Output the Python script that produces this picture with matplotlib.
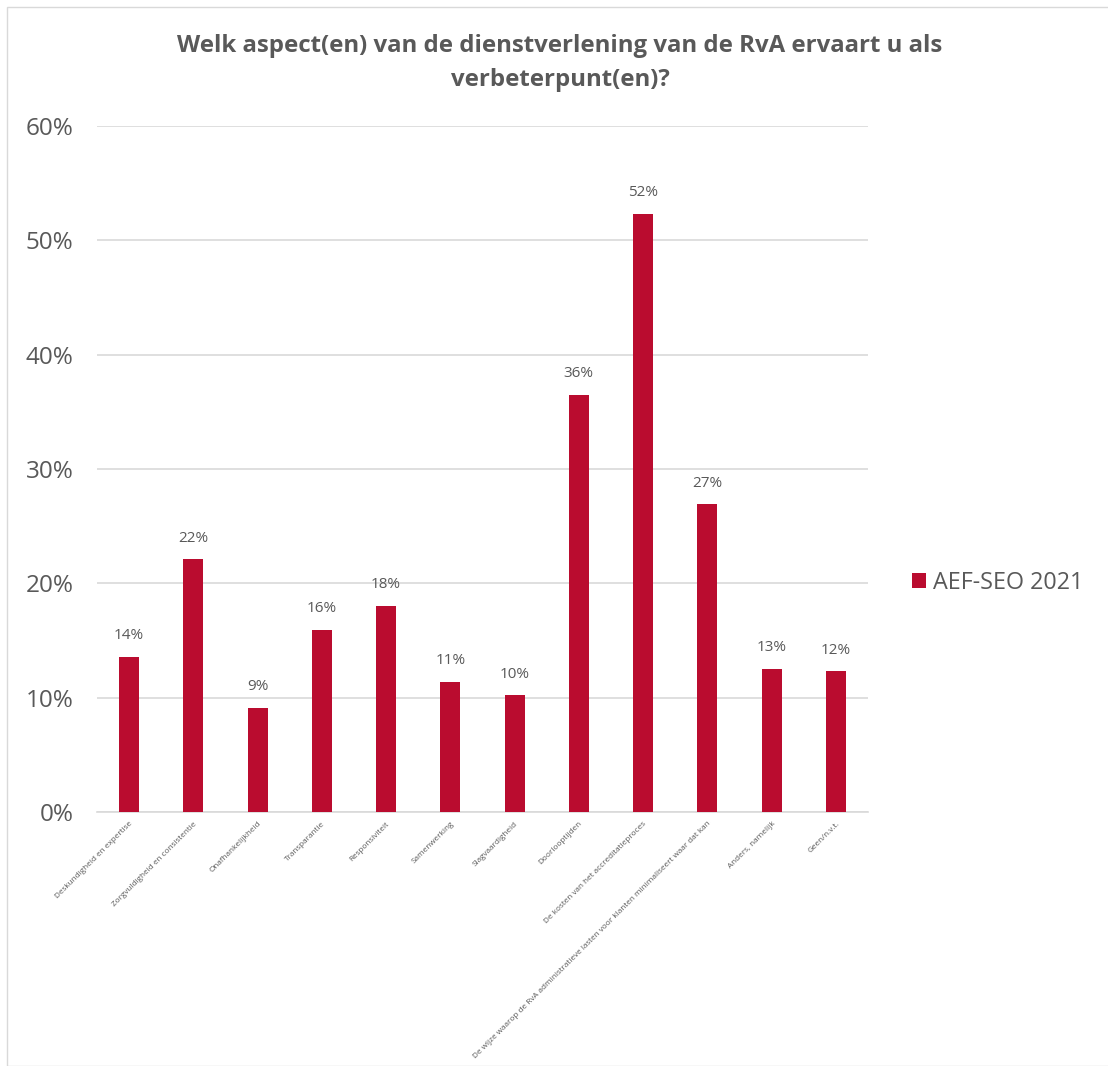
import numpy as np
import matplotlib.pyplot as plt
from matplotlib.patches import Rectangle

plt.rcParams['font.family'] = ['Open Sans', 'DejaVu Sans']

categories = ['Deskundigheid en expertise', 'Zorgvuldigheid en consistentie',
              'Onafhankelijkheid', 'Transparantie', 'Responsiviteit',
              'Samenwerking', 'Slagvaardigheid', 'Doorlooptijden',
              'De kosten van het accreditatieproces',
              'De wijze waarop de RvA administratieve lasten voor klanten minimaliseert waar dat kan',
              'Anders, namelijk', 'Geen/n.v.t.']
values = [13.6, 22.1, 9.1, 15.9, 18.0, 11.4, 10.2, 36.5, 52.3, 26.9, 12.5, 12.3]
labels = ['14%', '22%', '9%', '16%', '18%', '11%', '10%', '36%', '52%', '27%', '13%', '12%']
series_name = 'AEF-SEO 2021'

grey = '#595959'
red = '#BA0C2F'

fig = plt.figure(figsize=(11.08, 10.66), dpi=100)
ax = fig.add_axes([97/1108, 1-812/1066, 771/1108, 686/1066])

x = np.arange(len(categories))
bars = ax.bar(x, values, width=0.31, color=red, label=series_name, zorder=3)
for xi, v, lab in zip(x, values, labels):
    ax.text(xi, v + 1.2, lab, ha='center', va='bottom', fontsize=11, color=grey)

ax.set_xlim(-0.5, len(categories) - 0.5)
ax.set_ylim(0, 60)
ax.set_yticks(np.arange(0, 61, 10))
ax.set_yticklabels([f'{t}%' for t in range(0, 61, 10)], fontsize=17.5, color=grey)
ax.yaxis.grid(True, color='#d9d9d9', linewidth=1.2, zorder=0)
ax.set_xticks(x)
ax.set_xticklabels(categories, rotation=45, ha='right', rotation_mode='anchor',
                   fontsize=5.9, color=grey)
ax.tick_params(axis='both', length=0)
ax.tick_params(axis='y', pad=17)
ax.tick_params(axis='x', pad=6)
for s in ['top', 'right', 'left']:
    ax.spines[s].set_visible(False)
ax.spines['bottom'].set_color('#d9d9d9')
ax.spines['bottom'].set_linewidth(1.2)

fig.text(560/1108, 1-63/1066, 'Welk aspect(en) van de dienstverlening van de RvA ervaart u als\nverbeterpunt(en)?',
         ha='center', va='center', fontsize=17.3, fontweight='bold', color=grey, linespacing=1.55)

leg = fig.legend(handles=[bars], labels=[series_name], loc='center left',
                 bbox_to_anchor=(891/1108, 1-583/1066), frameon=False, fontsize=16.8,
                 handlelength=0.62, handleheight=0.62, handletextpad=0.3)
for t in leg.get_texts():
    t.set_color(grey)

fig.patches.append(Rectangle((7/1108, 0), 1.2, 1-7/1066, transform=fig.transFigure,
                             fill=False, edgecolor='#d9d9d9', linewidth=1))

fig.savefig('out.png', dpi=100)
